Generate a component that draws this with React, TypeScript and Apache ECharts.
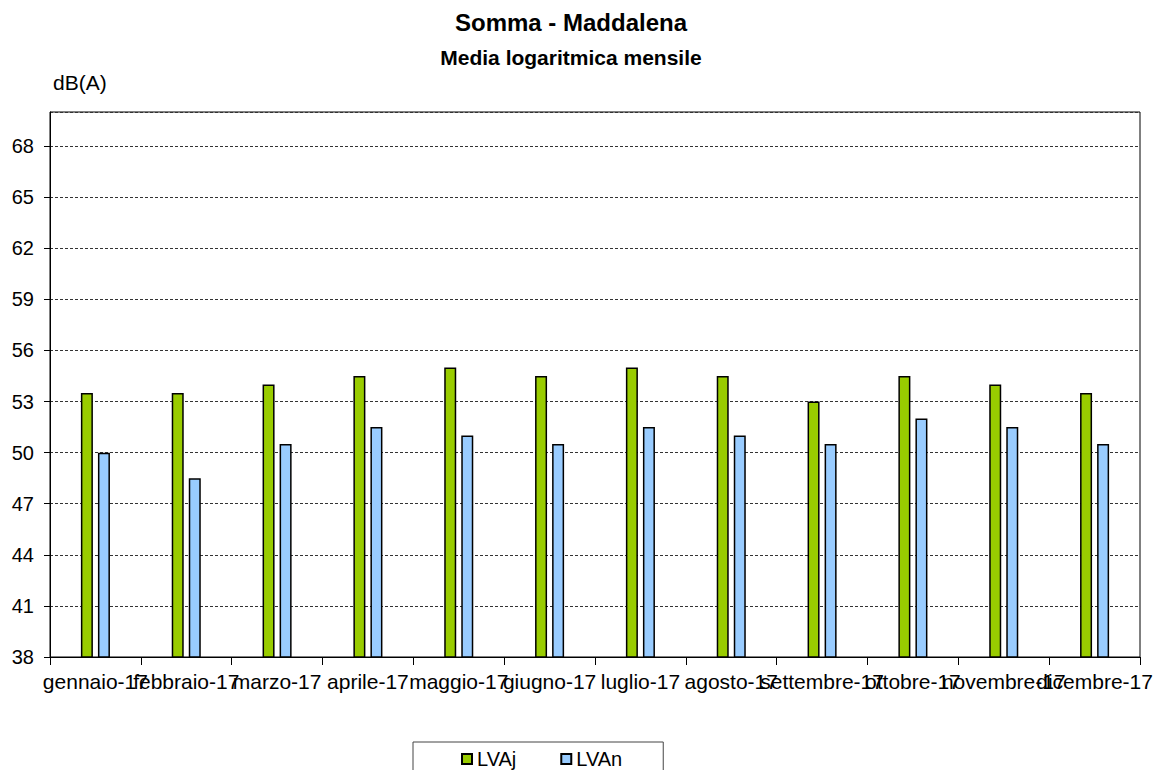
import React, { useEffect, useRef } from "react";
import * as echarts from "echarts";

const categories = [
  "gennaio-17", "febbraio-17", "marzo-17", "aprile-17", "maggio-17", "giugno-17",
  "luglio-17", "agosto-17", "settembre-17", "ottobre-17", "novembre-17", "dicembre-17",
];
const lvaj = [53.5, 53.5, 54, 54.5, 55, 54.5, 55, 54.5, 53, 54.5, 54, 53.5];
const lvan = [50, 48.5, 50.5, 51.5, 51, 50.5, 51.5, 51, 50.5, 52, 51.5, 50.5];
const yMin = 38;
const yMax = 70;
const yStep = 3;

const FONT = '"Liberation Sans", Arial, sans-serif';

export default function App() {
  const ref = useRef<HTMLDivElement>(null);
  useEffect(() => {
    if (!ref.current) return;
    const chart = echarts.init(ref.current, undefined, { renderer: "svg" });
    chart.setOption({
      animation: false,
      backgroundColor: "#fff",
      textStyle: { fontFamily: FONT },
      graphic: [
        {
          type: "text", x: 571, y: 22,
          style: { text: "Somma - Maddalena", font: `bold 24px ${FONT}`, fill: "#000", textAlign: "center", textVerticalAlign: "middle" },
        },
        {
          type: "text", x: 571, y: 57,
          style: { text: "Media logaritmica mensile", font: `bold 21px ${FONT}`, fill: "#000", textAlign: "center", textVerticalAlign: "middle" },
        },
        {
          type: "text", x: 53, y: 82,
          style: { text: "dB(A)", font: `21px ${FONT}`, fill: "#000", textAlign: "left", textVerticalAlign: "middle" },
        },
      ],
      grid: {
        left: 50, right: 20, top: 112, bottom: 113,
        show: true, borderColor: "#000", borderWidth: 1, containLabel: false,
      },
      legend: {
        left: 413, top: 742,
        padding: [7, 41, 7, 48],
        itemGap: 44, itemWidth: 10, itemHeight: 10,
        borderColor: "#444", borderWidth: 1,
        textStyle: { fontSize: 20, color: "#000", fontFamily: FONT },
        data: [
          { name: "LVAj", icon: "rect" },
          { name: "LVAn", icon: "rect" },
        ],
      },
      xAxis: {
        type: "category",
        data: categories,
        boundaryGap: true,
        axisLine: { lineStyle: { color: "#000", width: 1 } },
        axisTick: { show: true, length: 8, alignWithLabel: false, lineStyle: { color: "#000" } },
        axisLabel: { interval: 0, fontSize: 21, color: "#000", margin: 14, fontFamily: FONT },
        splitLine: { show: false },
      },
      yAxis: {
        type: "value",
        min: yMin, max: yMax, interval: yStep,
        axisLine: { show: true, lineStyle: { color: "#000", width: 1 } },
        axisTick: { show: true, length: 6, lineStyle: { color: "#000" } },
        axisLabel: {
          fontSize: 20, color: "#000", margin: 16, fontFamily: FONT, showMaxLabel: false,
          formatter: (v: number) => (v === yMax ? "" : String(v)),
        },
        splitLine: { show: true, lineStyle: { color: "#333", type: [3, 2], width: 1 } },
      },
      series: [
        {
          name: "LVAj", type: "bar", data: lvaj, barWidth: 12, barGap: "42%",
          itemStyle: { color: "#99CC00", borderColor: "#000", borderWidth: 1.5 },
        },
        {
          name: "LVAn", type: "bar", data: lvan, barWidth: 12, barGap: "42%",
          itemStyle: { color: "#99CCFF", borderColor: "#000", borderWidth: 1.5 },
        },
      ],
    });
    return () => chart.dispose();
  }, []);
  return <div ref={ref} style={{ position: "fixed", left: 0, top: 0, width: 1160, height: 770 }} />;
}
